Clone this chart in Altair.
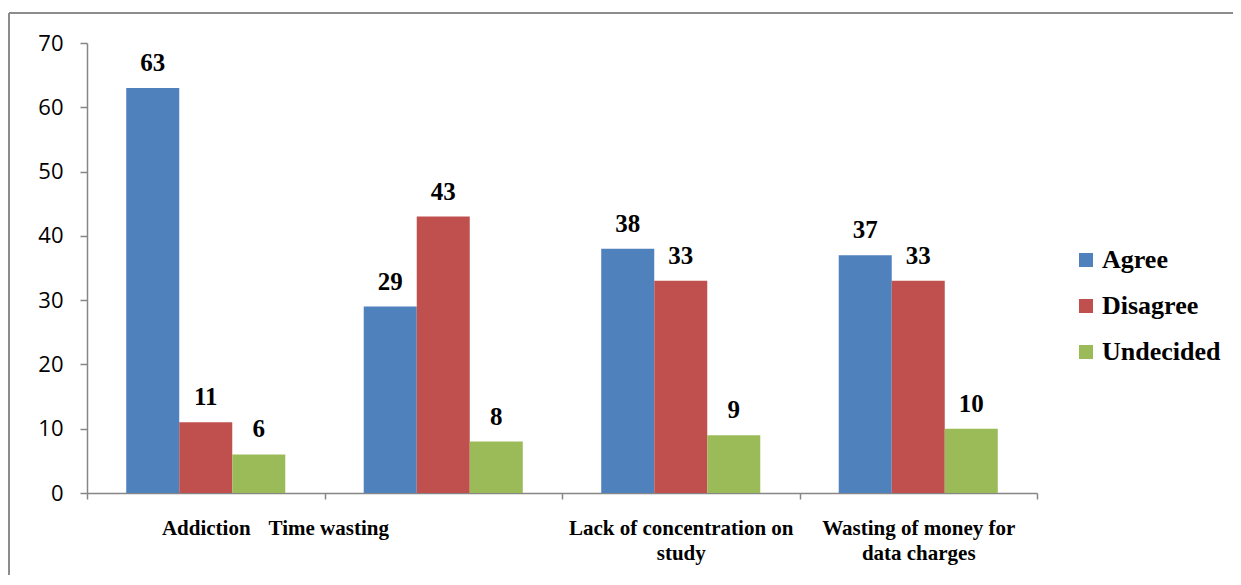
import altair as alt
import pandas as pd

categories = ["Addiction", "Time wasting", "Lack of concentration on study",
              "Wasting of money for data charges"]
label_lines = {
    "Lack of concentration on study": ["Lack of concentration on", "study"],
    "Wasting of money for data charges": ["Wasting of money for", "data charges"],
}
series = ["Agree", "Disagree", "Undecided"]
agree = [63, 29, 38, 37]
disagree = [11, 43, 33, 33]
undecided = [6, 8, 9, 10]
colors = ["#4F81BD", "#C0504D", "#9BBB59"]

rows = []
for i, c in enumerate(categories):
    for s, vals in zip(series, [agree, disagree, undecided]):
        rows.append({"category": c, "series": s, "value": vals[i]})
df = pd.DataFrame(rows)

# label expression for multi-line labels
expr = "datum.label"
for k, v in label_lines.items():
    arr = "[" + ", ".join("'" + x + "'" for x in v) + "]"
    expr = f"datum.label == '{k}' ? {arr} : (" + expr + ")"

serif = "Liberation Serif"
axis_color = "#868686"

x_enc = alt.X(
    "category:N", sort=categories, title=None,
    scale=alt.Scale(paddingInner=0, paddingOuter=0),
    axis=alt.Axis(
        labelAngle=0, labelFont=serif, labelFontWeight="bold", labelFontSize=21,
        labelColor="black", labelExpr=expr, labelLineHeight=25, labelBaseline="top",
        labelPadding=18, labelLimit=0, tickBand="extent", tickSize=6, tickColor=axis_color,
        domainColor=axis_color, domainWidth=1.5, tickWidth=1.5,
        labelOffset={"condition": {"test": "datum.value == 'Time wasting'", "value": -115}, "value": 0},
    ),
)
xo_enc = alt.XOffset("series:N", sort=series,
                     scale=alt.Scale(paddingOuter=0.74, paddingInner=0))

bars = alt.Chart(df).mark_bar().encode(
    x=x_enc,
    xOffset=xo_enc,
    y=alt.Y("value:Q", title=None,
            scale=alt.Scale(domain=[0, 70], nice=False),
            axis=alt.Axis(values=list(range(0, 71, 10)), grid=False,
                          labelFont="Open Sans", labelFontSize=22, labelColor="black",
                          labelPadding=17, tickSize=7, tickColor=axis_color,
                          domainColor=axis_color, domainWidth=1.5, tickWidth=1.5)),
    color=alt.Color("series:N", sort=series,
                    scale=alt.Scale(domain=series, range=colors),
                    legend=alt.Legend(title=None, orient="none", legendX=986, legendY=204,
                                      symbolType="square", symbolSize=196,
                                      symbolStrokeWidth=0, labelFont=serif,
                                      labelFontWeight="bold", labelFontSize=26,
                                      labelColor="black", rowPadding=20,
                                      labelOffset=3, padding=0, labelLimit=0)),
)

labels = alt.Chart(df).mark_text(
    font=serif, fontWeight="bold", fontSize=25, color="black",
    baseline="alphabetic", dy=-17,
).encode(
    x=alt.X("category:N", sort=categories),
    xOffset=alt.XOffset("series:N", sort=series),
    y="value:Q",
    text="value:Q",
)

frame_df = pd.DataFrame({"a": [0]})
top_border = alt.Chart(frame_df).mark_rule(color="#8c8c8c", strokeWidth=2).encode(
    x=alt.value(-78), x2=alt.value(1160), y=alt.value(-30))
left_border = alt.Chart(frame_df).mark_rule(color="#8c8c8c", strokeWidth=2).encode(
    x=alt.value(-78), y=alt.value(-30), y2=alt.value(560))

chart = alt.layer(bars, labels, top_border, left_border).properties(
    width=950, height=450,
    autosize=alt.AutoSizeParams(type="none"),
    padding={"left": 79, "top": 35, "right": 196, "bottom": 82},
    background="white",
).configure_view(stroke=None)

chart.save("out.html", embed_options={"renderer": "svg", "actions": False})
